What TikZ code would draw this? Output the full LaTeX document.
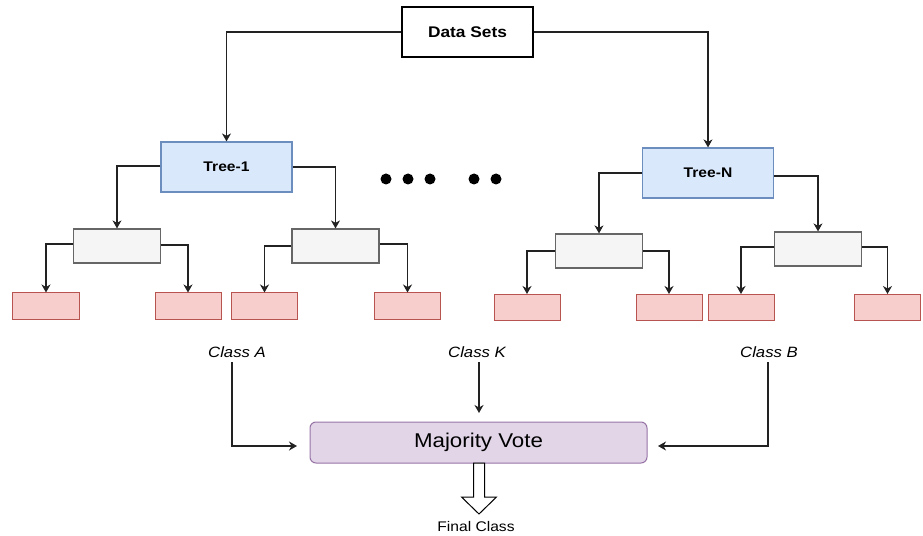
\documentclass[tikz,border=0pt]{standalone}
\usepackage{fontspec}
\setmainfont{Liberation Sans}[FakeStretch=1.12]
\usetikzlibrary{arrows.meta}
\definecolor{bluefill}{HTML}{DAE8FC}
\definecolor{bluedraw}{HTML}{6C8EBF}
\definecolor{grayfill}{HTML}{F5F5F5}
\definecolor{graydraw}{HTML}{666666}
\definecolor{redfill}{HTML}{F8CECC}
\definecolor{reddraw}{HTML}{B85450}
\definecolor{purpfill}{HTML}{E1D5E7}
\definecolor{purpdraw}{HTML}{9673A6}
\definecolor{linecol}{HTML}{222222}
\tikzset{
  box/.style={draw=black, fill=white, line width=1.2bp, minimum width=131bp, minimum height=50bp, inner sep=0pt, font=\fontsize{15.5}{17}\selectfont\bfseries},
  treebox/.style={draw=bluedraw, fill=bluefill, line width=1.2bp, minimum width=131bp, minimum height=50bp, inner sep=0pt, font=\fontsize{14}{17}\selectfont\bfseries},
  splitbox/.style={draw=graydraw, fill=grayfill, line width=1.2bp, minimum width=87bp, minimum height=34bp, inner sep=0pt},
  leafbox/.style={draw=reddraw, fill=redfill, line width=1bp, minimum width=66bp, minimum height=26bp, inner sep=0pt},
  votebox/.style={draw=purpdraw, fill=purpfill, line width=1bp, rounded corners=6bp, minimum width=337bp, minimum height=41bp, inner sep=0pt, font=\fontsize{20}{22}\selectfont},
  classlbl/.style={inner sep=0pt, font=\fontsize{15}{17}\selectfont\itshape},
  conn/.style={draw=linecol, line width=1.1bp, -{Stealth[length=8bp,width=9bp,inset=2.5bp]}},
  dotc/.style={circle, fill=black, inner sep=0pt, minimum size=11bp},
}
\begin{document}
\begin{tikzpicture}[x=1bp,y=-1bp]
\useasboundingbox (0,0) rectangle (923,536);
% root
\node[box] (ds) at (467.5,32) {Data Sets};
% trees
\node[treebox] (t1) at (226.5,167) {Tree-1};
\node[treebox] (tn) at (708,173) {Tree-N};
% split nodes
\node[splitbox] (s1) at (117,246) {};
\node[splitbox] (s2) at (335.5,246) {};
\node[splitbox] (s3) at (599,251) {};
\node[splitbox] (s4) at (818,249) {};
% leaves
\node[leafbox] (l1) at (46,306) {};
\node[leafbox] (l2) at (188,306) {};
\node[leafbox] (l3) at (264.5,306) {};
\node[leafbox] (l4) at (407.5,306) {};
\node[leafbox] (l5) at (527,307.5) {};
\node[leafbox] (l6) at (669,307.5) {};
\node[leafbox] (l7) at (741,307.5) {};
\node[leafbox] (l8) at (887.5,307.5) {};
% dots
\node[dotc] (d1) at (386,179) {};
\node[dotc] (d2) at (408,179) {};
\node[dotc] (d3) at (430,179) {};
\node[dotc] (d4) at (474,179) {};
\node[dotc] (d5) at (496,179) {};
% root to trees
\draw[conn] (ds.west) -| (t1.north);
\draw[conn] (ds.east) -| (tn.north);
% tree to splits
\draw[conn] ([yshift=1bp]t1.west) -| (s1.north);
\draw[conn] (t1.east) -| (s2.north);
\draw[conn] (tn.west) -| (s3.north);
\draw[conn] ([yshift=-3bp]tn.east) -| (s4.north);
% splits to leaves
\draw[conn] ([yshift=2bp]s1.west) -| (l1.north);
\draw[conn] ([yshift=1bp]s1.east) -| (l2.north);
\draw[conn] (s2.west) -| (l3.north);
\draw[conn] ([yshift=2bp]s2.east) -| (l4.north);
\draw[conn] (s3.west) -| (l5.north);
\draw[conn] (s3.east) -| (l6.north);
\draw[conn] ([yshift=2bp]s4.west) -| (l7.north);
\draw[conn] ([yshift=2bp]s4.east) -| (l8.north);
% classes
\node[classlbl] (ca) at (237,352) {Class A};
\node[classlbl] (ck) at (477,352) {Class K};
\node[classlbl] (cb) at (769,352) {Class B};
\node[votebox] (mv) at (478.5,442.5) {Majority Vote};
\coordinate (mvw) at (297,446);
\coordinate (mve) at (658,446);
\coordinate (mvn) at (479,413);
\coordinate (ca0) at (232,362);
\coordinate (ck0) at (479,362);
\coordinate (cb0) at (768,362);
\draw[conn] (ca0) |- (mvw);
\draw[conn] (ck0) -- (mvn);
\draw[conn] (cb0) |- (mve);
% hollow arrow
\draw[draw=black, fill=white, line width=1bp, line join=miter]
  (473.5,463) -- (484.5,463) -- (484.5,497) -- (496.5,497) -- (479,514)
  -- (461.5,497) -- (473.5,497) -- cycle;
\node[inner sep=0pt, font=\fontsize{14}{15}\selectfont] (fc) at (476,527) {Final Class};
\end{tikzpicture}
\end{document}
